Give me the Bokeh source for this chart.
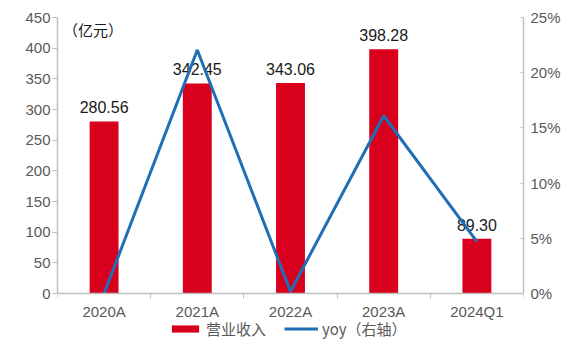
from bokeh.plotting import figure
from bokeh.models import (Range1d, LinearAxis, FixedTicker, PrintfTickFormatter,
                          Legend, LegendItem, Label, ColumnDataSource)
from bokeh.core.properties import value
from bokeh.embed import file_html
from bokeh.resources import INLINE

# ---- data ----
categories = ["2020A", "2021A", "2022A", "2023A", "2024Q1"]
revenue = [280.56, 342.45, 343.06, 398.28, 89.30]
revenue_labels = ["280.56", "342.45", "343.06", "398.28", "89.30"]
yoy = [0.0, 22.06, 0.18, 16.10, 4.70]
left_ticks = [0, 50, 100, 150, 200, 250, 300, 350, 400, 450]
right_ticks = [0, 5, 10, 15, 20, 25]
series_names = ["营业收入", "yoy（右轴）"]
unit_label = "（亿元）"

RED = "#D8001C"
BLUE = "#1F6EB6"
AXIS = "#BFBFBF"
TICK_TXT = "#595959"
NUM_FONT = "Liberation Sans"
CJK_FONT = "Noto Sans CJK SC"

# layout (pixels)
W, H = 569, 340
TOP, BOTTOM_SPACE = 17, 47          # frame top border; space under the zero line
PLOT_H = H - TOP - BOTTOM_SPACE     # height of the 0..max data area
LMAX, RMAX = left_ticks[-1], right_ticks[-1]
l_low = -BOTTOM_SPACE / PLOT_H * LMAX
r_low = -BOTTOM_SPACE / PLOT_H * RMAX

x = list(range(1, len(categories) + 1))
src = ColumnDataSource(dict(x=x, rev=revenue, lab=revenue_labels, yoy=yoy))

p = figure(width=W, height=H, output_backend="svg", toolbar_location=None,
           x_range=Range1d(0.5, len(categories) + 0.5), y_range=Range1d(l_low, LMAX),
           min_border_left=57, min_border_right=46, min_border_top=TOP,
           min_border_bottom=0)
p.outline_line_color = None
p.xgrid.visible = False
p.ygrid.visible = False
p.background_fill_color = "white"
p.border_fill_color = "white"

p.extra_y_ranges = {"yoy": Range1d(r_low, RMAX)}

bars = p.vbar(x="x", top="rev", width=0.31, source=src, fill_color=RED, line_color=None)
p.text(x="x", y="rev", text="lab", source=src, y_offset=-14,
       text_align="center", text_baseline="alphabetic",
       text_font=value(NUM_FONT), text_font_size="16px", text_color="#1A1A1A")
line = p.line(x="x", y="yoy", source=src, y_range_name="yoy",
              line_color=BLUE, line_width=3)

# x axis (drawn at the zero line)
xa = p.xaxis[0]
xa.fixed_location = 0
xa.ticker = FixedTicker(ticks=x, minor_ticks=[i + 0.5 for i in range(len(categories) + 1)])
xa.major_label_overrides = {i: c for i, c in zip(x, categories)}
xa.major_tick_line_color = None
xa.major_tick_out = 0
xa.minor_tick_line_color = AXIS
xa.minor_tick_out = 5
xa.minor_tick_in = 0
xa.axis_line_color = AXIS
xa.axis_line_width = 1.5
xa.major_label_text_font = NUM_FONT
xa.major_label_text_font_size = "15px"
xa.major_label_text_color = TICK_TXT
xa.major_label_standoff = 4

# left axis
ya = p.yaxis[0]
ya.bounds = (0, LMAX)
ya.ticker = FixedTicker(ticks=left_ticks)
ya.minor_tick_line_color = None
ya.major_tick_line_color = AXIS
ya.major_tick_out = 5
ya.major_tick_in = 0
ya.axis_line_color = AXIS
ya.axis_line_width = 1.5
ya.major_label_text_font = NUM_FONT
ya.major_label_text_font_size = "15px"
ya.major_label_text_color = TICK_TXT
ya.major_label_standoff = 2

# right axis
ra = LinearAxis(y_range_name="yoy", ticker=FixedTicker(ticks=right_ticks),
                formatter=PrintfTickFormatter(format="%d%%"), bounds=(0, RMAX))
ra.minor_tick_line_color = None
ra.major_tick_line_color = AXIS
ra.major_tick_in = 3
ra.major_tick_out = 0
ra.axis_line_color = AXIS
ra.axis_line_width = 1.5
ra.major_label_text_font = NUM_FONT
ra.major_label_text_font_size = "15px"
ra.major_label_text_color = TICK_TXT
ra.major_label_standoff = 7
p.add_layout(ra, "right")

# unit label
p.add_layout(Label(x=0.56, y=431, text=unit_label, text_baseline="middle",
                   text_font=CJK_FONT, text_font_size="15px", text_color="#1A1A1A"))

legend = Legend(items=[LegendItem(label=series_names[0], renderers=[bars]),
                       LegendItem(label=series_names[1], renderers=[line])],
                location=(111, 1), orientation="horizontal",
                glyph_width=34, glyph_height=9, label_standoff=4, spacing=18,
                padding=0, margin=0, border_line_color=None,
                background_fill_alpha=0,
                label_text_font=CJK_FONT, label_text_font_size="15px",
                label_text_color=TICK_TXT)
p.add_layout(legend)

open("out.html", "w").write(file_html(p, INLINE))
